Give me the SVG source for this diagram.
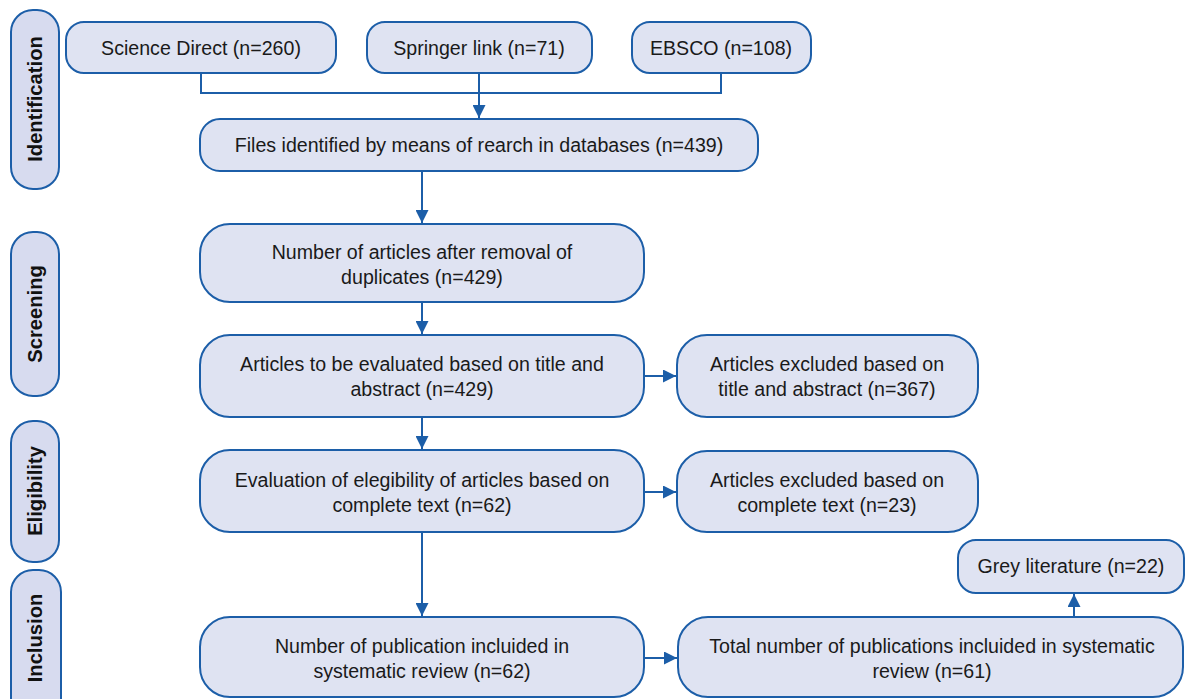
<svg xmlns="http://www.w3.org/2000/svg" width="1185" height="699" viewBox="0 0 1185 699">
<defs>
<style>
.box{fill:#dfe3f2;stroke:#1c5ea8;stroke-width:2}
.side{fill:#d7dbef;stroke:#1c5ea8;stroke-width:2}
.t{font-family:"Liberation Sans",Arial,sans-serif;font-size:19.6px;fill:#1a1a1a;text-anchor:middle}
.s{font-family:"Liberation Sans",Arial,sans-serif;font-size:20.2px;font-weight:bold;fill:#111;text-anchor:middle}
.c{fill:none;stroke:#1c5ea8;stroke-width:2}
</style>
<marker id="ah" viewBox="0 0 10 10" refX="10" refY="5" markerWidth="6.5" markerHeight="6.5" markerUnits="strokeWidth" orient="auto">
<path d="M0,0 L10,5 L0,10 z" fill="#1c5ea8"/>
</marker>
</defs>
<rect width="1185" height="699" fill="#ffffff"/>
<g id="side-identification"><rect class="side" x="11" y="10" width="48" height="179" rx="22"/><text class="s" transform="translate(42,99) rotate(-90)">Identification</text></g>
<g id="side-screening"><rect class="side" x="11" y="232" width="48" height="164" rx="22"/><text class="s" transform="translate(42,314) rotate(-90)">Screening</text></g>
<g id="side-eligibility"><rect class="side" x="11" y="421" width="48" height="141" rx="22"/><text class="s" transform="translate(42,491) rotate(-90)">Eligibility</text></g>
<g id="side-inclusion"><rect class="side" x="11" y="570" width="50" height="150" rx="22"/><text class="s" transform="translate(42,638) rotate(-90)">Inclusion</text></g>
<g id="connectors">
<path class="c" d="M201,73 V93 H721 V73"/>
<path class="c" d="M479,73 V118" marker-end="url(#ah)"/>
<path class="c" d="M422,171 V223" marker-end="url(#ah)"/>
<path class="c" d="M422,302 V334" marker-end="url(#ah)"/>
<path class="c" d="M644,376 H676" marker-end="url(#ah)"/>
<path class="c" d="M422,417 V449" marker-end="url(#ah)"/>
<path class="c" d="M644,492 H676" marker-end="url(#ah)"/>
<path class="c" d="M422,532 V616" marker-end="url(#ah)"/>
<path class="c" d="M644,658 H677" marker-end="url(#ah)"/>
<path class="c" d="M1074,617 V594" marker-end="url(#ah)"/>
</g>
<g id="science-direct"><rect class="box" x="66" y="22" width="270" height="51" rx="18"/><text class="t" x="201" y="55">Science Direct (n=260)</text></g>
<g id="springer"><rect class="box" x="367" y="22" width="225" height="51" rx="18"/><text class="t" x="479" y="55">Springer link (n=71)</text></g>
<g id="ebsco"><rect class="box" x="632" y="22" width="179" height="51" rx="18"/><text class="t" x="721" y="55">EBSCO (n=108)</text></g>
<g id="files"><rect class="box" x="200" y="119" width="558" height="52" rx="20"/><text class="t" x="479" y="152">Files identified by means of rearch in databases (n=439)</text></g>
<g id="duplicates"><rect class="box" x="200" y="224" width="444" height="78" rx="30"/><text class="t" x="422" y="259">Number of articles after removal of</text><text class="t" x="422" y="284">duplicates (n=429)</text></g>
<g id="title-abstract"><rect class="box" x="200" y="335" width="444" height="82" rx="30"/><text class="t" x="422" y="371">Articles to be evaluated based on title and</text><text class="t" x="422" y="396">abstract (n=429)</text></g>
<g id="excluded-title"><rect class="box" x="677" y="335" width="301" height="82" rx="30"/><text class="t" x="827" y="371">Articles excluded based on</text><text class="t" x="827" y="396">title and abstract (n=367)</text></g>
<g id="eligibility"><rect class="box" x="200" y="450" width="444" height="82" rx="30"/><text class="t" x="422" y="487">Evaluation of elegibility of articles based on</text><text class="t" x="422" y="512">complete text (n=62)</text></g>
<g id="excluded-text"><rect class="box" x="677" y="451" width="301" height="81" rx="30"/><text class="t" x="827" y="487">Articles excluded based on</text><text class="t" x="827" y="512">complete text (n=23)</text></g>
<g id="grey"><rect class="box" x="958" y="540" width="226" height="53" rx="18"/><text class="t" x="1071" y="573">Grey literature (n=22)</text></g>
<g id="included"><rect class="box" x="200" y="617" width="444" height="80" rx="30"/><text class="t" x="422" y="653">Number of publication incluided in</text><text class="t" x="422" y="678">systematic review (n=62)</text></g>
<g id="total"><rect class="box" x="678" y="617" width="505" height="80" rx="30"/><text class="t" x="932" y="653">Total number of publications incluided in systematic</text><text class="t" x="932" y="678">review (n=61)</text></g>
</svg>
